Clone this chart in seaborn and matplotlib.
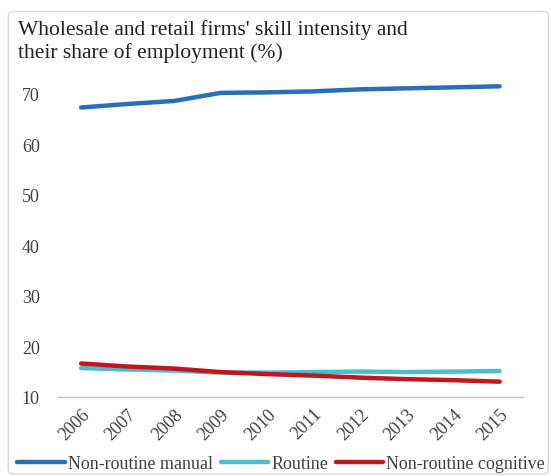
import matplotlib
matplotlib.use("Agg")
import matplotlib.pyplot as plt
from matplotlib.patches import FancyBboxPatch
import seaborn as sns
import pandas as pd

years = ["2006", "2007", "2008", "2009", "2010", "2011", "2012", "2013", "2014", "2015"]
non_routine_manual = [67.3, 68.0, 68.6, 70.2, 70.3, 70.5, 70.9, 71.1, 71.3, 71.5]
routine = [15.7, 15.4, 15.2, 14.8, 14.8, 14.9, 15.0, 14.9, 15.0, 15.1]
non_routine_cognitive = [16.6, 16.0, 15.6, 14.9, 14.5, 14.2, 13.8, 13.5, 13.3, 13.0]

series_names = ["Non-routine manual", "Routine", "Non-routine cognitive"]
colors = ["#2B6EB8", "#4BBDCC", "#C0161D"]

df = pd.DataFrame({
    "year": years * 3,
    "value": non_routine_manual + routine + non_routine_cognitive,
    "series": [s for s in series_names for _ in years],
})

sns.set_theme(style="white")
plt.rcParams["font.family"] = ["Liberation Serif", "DejaVu Serif"]

fig = plt.figure(figsize=(5.51, 4.77), dpi=100)
ax = fig.add_axes([0.105, 0.166, 0.844, 0.688])

sns.lineplot(data=df, x="year", y="value", hue="series", hue_order=series_names,
             palette=colors, linewidth=3.2, ax=ax, sort=False,
             solid_capstyle="round", solid_joinstyle="round")

ax.set_xlim(-0.5, len(years) - 0.5)
ax.set_ylim(10, 75)
ax.set_yticks([10, 20, 30, 40, 50, 60, 70])
ax.set_xlabel("")
ax.set_ylabel("")

for side in ["top", "right", "left"]:
    ax.spines[side].set_visible(False)
ax.spines["bottom"].set_color("#BFBFBF")
ax.spines["bottom"].set_linewidth(1.0)
ax.tick_params(axis="both", length=0, labelsize=13, labelcolor="#404040", pad=6)
ax.tick_params(axis="y", pad=13)
for lbl in ax.get_xticklabels():
    lbl.set_rotation(45)
    lbl.set_ha("right")
    lbl.set_rotation_mode("anchor")

fig.text(0.033, 0.958, "Wholesale and retail firms' skill intensity and\ntheir share of employment (%)",
         fontsize=15.5, color="#222222", ha="left", va="top", linespacing=1.2)

leg = fig.legend(*ax.get_legend_handles_labels(), loc="lower left",
                 bbox_to_anchor=(0.025, 0.0), ncol=3, frameon=False,
                 fontsize=13, handlelength=2.65, handletextpad=0.17, columnspacing=0.4,
                 borderaxespad=0, borderpad=0.2)
ax.get_legend().remove()
for t in leg.get_texts():
    t.set_color("#404040")
for h in leg.get_lines():
    h.set_linewidth(3.2)
    h.set_solid_capstyle("round")

border = FancyBboxPatch((0.015, 0.004), 0.98, 0.97, boxstyle="round,pad=0,rounding_size=0.01",
                        transform=fig.transFigure, fill=False, edgecolor="#D9D9D9", linewidth=1.0)
fig.patches.append(border)

fig.savefig("out.png", dpi=100)
